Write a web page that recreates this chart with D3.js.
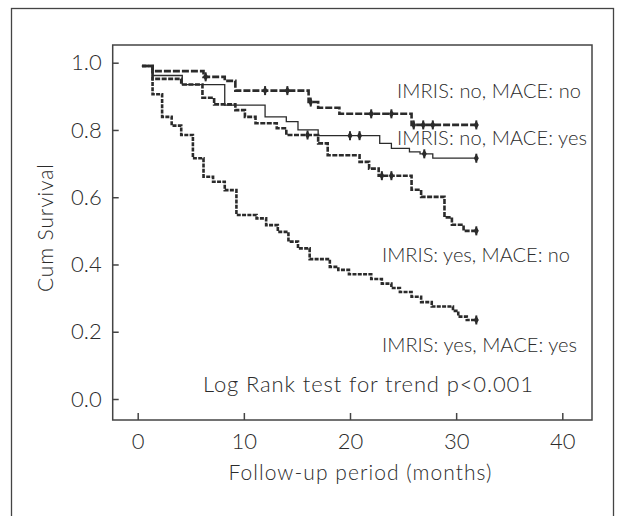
<!DOCTYPE html>
<html>
<head>
<meta charset="utf-8">
<script src="https://cdn.jsdelivr.net/npm/d3@7"></script>
<style>
  body { margin: 0; background: #fff; }
  text { font-family: Lato, "Open Sans", sans-serif; font-weight: 300; fill: #2b2b2b; }
</style>
</head>
<body>
<svg width="617" height="516"></svg>
<script>
// Kaplan-Meier curves (months, cumulative survival)
const noNoTime = [0.4, 1.4, 6.2, 8.2, 9.2, 16.1, 17.0, 19.0, 25.8, 31.9];
const noNoSurv = [0.99, 0.975, 0.958, 0.946, 0.917, 0.883, 0.866, 0.848, 0.815, 0.815];
const noNoCens = [6.4, 12.0, 14.1, 16.3, 22.0, 23.9, 26.0, 26.9, 27.8, 31.9];

const noYesTime = [0.4, 1.4, 4.2, 8.2, 12.0, 14.0, 15.1, 17.0, 22.8, 23.9, 25.6, 26.6, 27.8, 31.9];
const noYesSurv = [0.99, 0.962, 0.935, 0.874, 0.839, 0.825, 0.80, 0.783, 0.760, 0.745, 0.735, 0.729, 0.716, 0.716];
const noYesCens = [20.0, 20.9, 27.0, 31.9];

const yesNoTime = [0.4, 1.4, 4.1, 6.1, 7.2, 9.2, 10.1, 11.1, 13.1, 14.0, 17.0, 17.9, 20.9, 21.8, 22.7, 25.8, 26.7, 28.9, 29.6, 30.7, 31.9];
const yesNoSurv = [0.99, 0.952, 0.935, 0.896, 0.876, 0.859, 0.839, 0.82, 0.805, 0.785, 0.760, 0.725, 0.705, 0.685, 0.664, 0.622, 0.601, 0.54, 0.518, 0.500, 0.500];
const yesNoCens = [16.0, 23.0, 23.9, 31.9];

const yesYesTime = [0.4, 1.4, 2.3, 3.2, 4.1, 5.2, 6.2, 7.1, 8.2, 9.3, 11.2, 12.1, 13.2, 14.2, 15.1, 16.2, 18.1, 18.9, 19.9, 22.0, 23.0, 23.9, 24.7, 25.8, 26.7, 27.7, 29.7, 30.2, 31.0, 31.9];
const yesYesSurv = [0.99, 0.906, 0.839, 0.813, 0.785, 0.716, 0.661, 0.646, 0.621, 0.547, 0.537, 0.517, 0.497, 0.468, 0.448, 0.416, 0.393, 0.384, 0.371, 0.357, 0.343, 0.330, 0.318, 0.304, 0.288, 0.275, 0.262, 0.245, 0.235, 0.235];
const yesYesCens = [31.9];

const groupLabels = ["IMRIS: no, MACE: no", "IMRIS: no, MACE: yes", "IMRIS: yes, MACE: no", "IMRIS: yes, MACE: yes"];
const xTicks = [0, 10, 20, 30, 40];
const yTicks = [0, 0.2, 0.4, 0.6, 0.8, 1.0];

const svg = d3.select("svg");
const box = { left: 112.7, right: 592, top: 45, bottom: 420 };

const x = d3.scaleLinear().domain([0, 40]).range([137.7, 562.3]);
const y = d3.scaleLinear().domain([0, 1]).range([399, 62.7]);

// outer frame (runs off the bottom of the picture)
svg.append("rect")
  .attr("x", 11.5).attr("y", 8.5)
  .attr("width", 602).attr("height", 530)
  .attr("fill", "none").attr("stroke", "#444").attr("stroke-width", 1.3);

// plot box
svg.append("rect")
  .attr("x", box.left).attr("y", box.top)
  .attr("width", box.right - box.left).attr("height", box.bottom - box.top)
  .attr("fill", "none").attr("stroke", "#444").attr("stroke-width", 1.5);

const yAxisG = svg.append("g")
  .attr("transform", `translate(${box.left},0)`)
  .call(d3.axisLeft(y).tickValues(yTicks).tickSize(-6).tickPadding(11).tickFormat(d3.format(".1f")));
const xAxisG = svg.append("g")
  .attr("transform", `translate(0,${box.bottom})`)
  .call(d3.axisBottom(x).tickValues(xTicks).tickSize(-7).tickPadding(13).tickFormat(d3.format("d")));

[yAxisG, xAxisG].forEach((g) => {
  g.select(".domain").remove();
  g.selectAll(".tick line").attr("stroke", "#444").attr("stroke-width", 1.5);
  g.selectAll(".tick text").style("font-size", "22px").attr("fill", "#2b2b2b");
});

// axis titles
svg.append("text")
  .attr("transform", "translate(53,228) rotate(-90)")
  .attr("text-anchor", "middle")
  .attr("textLength", 128)
  .style("font-size", "21px")
  .text("Cum Survival");

svg.append("text")
  .attr("x", 360).attr("y", 480)
  .attr("text-anchor", "middle")
  .attr("textLength", 263)
  .style("font-size", "21px")
  .text("Follow-up period (months)");

// curves
const series = [
  { t: noNoTime, s: noNoSurv, c: noNoCens, dash: "7,2", w: 2.6 },
  { t: noYesTime, s: noYesSurv, c: noYesCens, dash: null, w: 1.3 },
  { t: yesNoTime, s: yesNoSurv, c: yesNoCens, dash: "5,1.5", w: 2.6 },
  { t: yesYesTime, s: yesYesSurv, c: yesYesCens, dash: "4,1.3", w: 2.6 }
];

const line = d3.line()
  .x((d) => x(d[0]))
  .y((d) => y(d[1]))
  .curve(d3.curveStepAfter);

// survival at a censoring time
const survAt = (d, t) => {
  let v = d.s[0];
  d.t.forEach((ti, i) => { if (ti <= t) v = d.s[i]; });
  return v;
};

series.forEach((d) => {
  svg.append("path")
    .datum(d.t.map((t, i) => [t, d.s[i]]))
    .attr("d", line)
    .attr("fill", "none")
    .attr("stroke", "#2b2b2b")
    .attr("stroke-width", d.w)
    .attr("stroke-dasharray", d.dash);

  const marks = svg.append("g").selectAll("g")
    .data(d.c)
    .enter()
    .append("g")
    .attr("transform", (t) => `translate(${x(t)},${y(survAt(d, t))})`);

  marks.append("line")
    .attr("y1", -4.5).attr("y2", 4.5)
    .attr("stroke", "#2b2b2b").attr("stroke-width", 2);
  marks.append("path")
    .attr("d", d3.symbol(d3.symbolDiamond, 22))
    .attr("fill", "#2b2b2b");
});

// group labels
const labelPos = [[397, 98], [397, 145], [382, 262], [382, 352]];
const labelLen = [184, 190, 188, 195];
svg.append("g").selectAll("text")
  .data(groupLabels)
  .enter()
  .append("text")
  .attr("x", (d, i) => labelPos[i][0])
  .attr("y", (d, i) => labelPos[i][1])
  .attr("textLength", (d, i) => labelLen[i])
  .style("font-size", "20px")
  .text((d) => d);

svg.append("text")
  .attr("x", 203).attr("y", 392)
  .attr("textLength", 330)
  .style("font-size", "22px")
  .text("Log Rank test for trend p<0.001");
</script>
</body>
</html>
